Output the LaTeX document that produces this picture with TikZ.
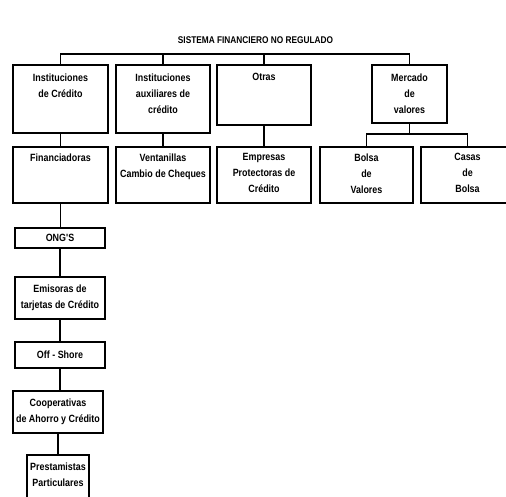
\documentclass[tikz,border=0pt]{standalone}
\usepackage{fontspec}
\newfontfamily\labfont[FakeStretch=0.85]{Liberation Sans}
\begin{document}
\begin{tikzpicture}[x=1pt,y=-1pt,
  box/.style={draw=black, line width=1.2pt, rectangle, inner sep=0pt},
  txt/.style={font=\labfont\bfseries\fontsize{10.5}{16}\selectfont, align=center, inner sep=0pt, anchor=north},
  ctxt/.style={font=\labfont\bfseries\fontsize{10.5}{16}\selectfont, align=center},
  conn/.style={draw=black, line width=1.1pt}]
\useasboundingbox (0,0) rectangle (506,496);
\clip (0,0) rectangle (506,496);
% title
\node[font=\labfont\bfseries\fontsize{9.75}{12}\selectfont, inner sep=0pt] (title) at (255.5,40) {SISTEMA FINANCIERO NO REGULADO};
% helper macro for boxes: corners
\newcommand{\mybox}[5]{\node[box, minimum width={#4-#2}, minimum height={#5-#3}] (#1) at ({(#2+#4)/2},{(#3+#5)/2}) {};}
% row 1
\mybox{b1}{13}{65}{108}{133}
\mybox{b2}{116}{65}{210}{133}
\mybox{b3}{217}{65}{311}{125}
\mybox{b4}{372}{65}{447}{123}
\node[txt] (t1) at ([yshift=-9]b1.north) {Instituciones\\de Crédito};
\node[txt] (t2) at ([yshift=-9]b2.north) {Instituciones\\auxiliares de\\crédito};
\node[txt] (t3) at ([yshift=-9]b3.north) {Otras};
\node[txt] (t4) at ([yshift=-9]b4.north) {Mercado\\de\\valores};
% row 2
\mybox{c1}{13}{147}{108}{203}
\mybox{c2}{116}{147}{210}{203}
\mybox{c3}{217}{147}{311}{203}
\mybox{c4}{320}{147}{413}{203}
\mybox{c5}{421}{147}{514}{203}
\node[txt] (u1) at ([yshift=-7]c1.north) {Financiadoras};
\node[txt] (u2) at ([yshift=-7]c2.north) {Ventanillas\\Cambio de Cheques};
\node[txt] (u3) at ([yshift=-7]c3.north) {Empresas\\Protectoras de\\Crédito};
\node[txt] (u4) at ([yshift=-7]c4.north) {Bolsa\\de\\Valores};
\node[txt] (u5) at ([yshift=-7]c5.north) {Casas\\de\\Bolsa};
% column
\mybox{d1}{15}{228}{105}{248}
\mybox{d2}{15}{277}{105}{319}
\mybox{d3}{15}{342}{105}{368}
\mybox{d4}{13}{391}{103}{433}
\mybox{d5}{27}{455}{89}{503}
\node[ctxt] (v1) at (d1.center) {ONG'S};
\node[ctxt] (v2) at (d2.center) {Emisoras de\\tarjetas de Crédito};
\node[ctxt] (v3) at (d3.center) {Off - Shore};
\node[ctxt] (v4) at (d4.center) {Cooperativas\\de Ahorro y Crédito};
\node[txt] (v5) at ([yshift=-8]d5.north) {Prestamistas\\Particulares};
% connectors
\coordinate (bus) at (0,54);
\coordinate (mbus) at (0,134);
\draw[conn] (b1.north) -- (b1.north |- bus) -- (b4.north |- bus) -- (b4.north);
\draw[conn] (b2.north) -- (b2.north |- bus);
\draw[conn] (b3.north) -- (b3.north |- bus);
\draw[conn] (b1.south) -- (c1.north);
\draw[conn] (b2.south) -- (c2.north);
\draw[conn] (b3.south) -- (c3.north);
\draw[conn] (b4.south) -- (b4.south |- mbus);
\draw[conn] (c4.north) -- (c4.north |- mbus) -- (c5.north |- mbus) -- (c5.north);
\draw[conn] (c1.south) -- (c1.south |- d1.north);
\draw[conn] (d1.south) -- (d1.south |- d2.north);
\draw[conn] (d2.south) -- (d2.south |- d3.north);
\draw[conn] (d3.south) -- (d3.south |- d4.north);
\draw[conn] (d4.south) -- (d4.south |- d5.north);
\end{tikzpicture}
\end{document}
